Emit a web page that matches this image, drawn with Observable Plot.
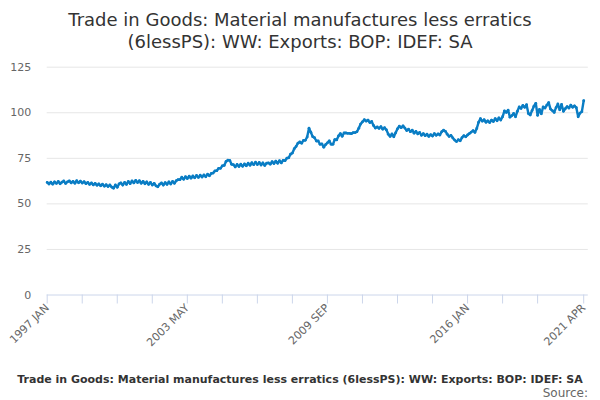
<!DOCTYPE html>
<html>
<head>
<meta charset="utf-8">
<script src="https://cdn.jsdelivr.net/npm/d3@7"></script>
<script src="https://cdn.jsdelivr.net/npm/@observablehq/plot@0.6"></script>
<style>
  html, body { margin: 0; padding: 0; background: #fff; }
  body { width: 600px; height: 400px; position: relative; overflow: hidden; font-family: "DejaVu Sans", sans-serif; }
  #title { position: absolute; top: 9px; left: 0; width: 600px; text-align: center; font-size: 18px; line-height: 22px; color: #333; }
  #chart { position: absolute; top: 0; left: 0; }
  #caption { position: absolute; top: 371px; left: 0; width: 600px; text-align: center; white-space: nowrap; font-size: 11px; font-weight: bold; color: #333; line-height: 18px; }
  #source { position: absolute; top: 385px; right: 12px; font-size: 12px; color: #666; line-height: 16px; }
</style>
</head>
<body>
<div id="title">Trade in Goods: Material manufactures less erratics<br>(6lessPS): WW: Exports: BOP: IDEF: SA</div>
<div id="chart"></div>
<div id="caption">Trade in Goods: Material manufactures less erratics (6lessPS): WW: Exports: BOP: IDEF: SA</div>
<div id="source">Source:</div>
<script>
// Monthly series, 1997 JAN .. 2021 APR
const startYear = 1997;
const monthNames = ["JAN","FEB","MAR","APR","MAY","JUN","JUL","AUG","SEP","OCT","NOV","DEC"];
const values = [
  // 1997
  61.8, 60.9, 61.9, 60.8, 62.1, 61.2, 62.3, 61.0, 61.9, 62.6, 61.2, 62.1,
  // 1998
  62.6, 61.5, 62.4, 61.3, 62.7, 61.6, 62.5, 61.4, 62.2, 61.1, 61.8, 60.7,
  // 1999
  61.5, 60.4, 61.3, 60.2, 61.0, 59.9, 60.8, 59.7, 60.5, 59.5, 60.4, 59.2,
  // 2000
  58.6, 60.4, 59.1, 61.0, 61.5, 60.3, 61.8, 60.7, 62.3, 61.1, 62.6, 61.5,
  // 2001
  62.9, 61.7, 62.7, 61.3, 62.4, 61.0, 62.1, 60.7, 61.8, 60.3, 61.3, 59.9,
  // 2002
  59.4, 60.8, 61.5, 60.3, 61.7, 60.7, 62.1, 60.9, 62.3, 61.3, 62.7, 63.3,
  // 2003
  63.3, 64.6, 63.5, 64.9, 63.9, 65.2, 64.1, 65.3, 64.3, 65.6, 64.5, 65.7,
  // 2004
  64.7, 65.9, 64.9, 66.3, 65.4, 66.7, 66.9, 68.1, 68.2, 69.5, 69.5, 70.9,
  // 2005
  71.1, 73.3, 74.0, 73.9, 71.7, 71.5, 70.3, 71.6, 70.5, 71.8, 70.6, 71.9,
  // 2006
  70.9, 72.3, 71.2, 72.6, 71.5, 72.9, 71.6, 72.7, 71.3, 72.5, 71.1, 72.3,
  // 2007
  72.5, 71.8, 73.2, 72.1, 73.5, 72.3, 73.7, 72.5, 73.9, 73.7, 75.1, 75.3,
  // 2008
  77.3, 77.9, 80.3, 81.5, 83.3, 84.0, 83.3, 84.8, 84.9, 86.7, 91.5, 89.3,
  // 2009
  86.9, 86.3, 84.5, 84.5, 82.7, 82.9, 81.1, 82.5, 83.5, 84.6, 82.7, 82.7,
  // 2010
  85.3, 85.1, 87.3, 88.6, 87.1, 88.9, 88.9, 88.7, 88.7, 88.5, 89.1, 89.1,
  // 2011
  89.6, 91.5, 93.8, 95.0, 96.2, 95.4, 96.0, 94.6, 95.2, 93.0, 91.6, 92.2,
  // 2012
  91.4, 92.4, 91.0, 91.8, 90.6, 88.2, 87.0, 88.4, 86.8, 89.0, 91.2, 92.6,
  // 2013
  91.8, 92.8, 91.6, 90.2, 91.0, 89.6, 90.4, 88.8, 89.8, 88.4, 89.2, 87.6,
  // 2014
  88.6, 87.4, 88.2, 87.0, 88.0, 87.2, 88.6, 87.6, 88.4, 87.8, 89.6, 90.4,
  // 2015
  89.8, 88.2, 87.0, 87.6, 86.2, 85.0, 84.2, 85.2, 84.6, 86.4, 87.4, 86.8,
  // 2016
  87.8, 88.6, 89.4, 90.2, 89.2, 91.4, 94.8, 96.8, 95.4, 96.2, 94.8, 95.6,
  // 2017
  94.6, 96.0, 95.2, 96.8, 95.6, 97.2, 96.0, 97.8, 101.0, 100.2, 101.4, 97.6,
  // 2018
  98.4, 99.6, 97.8, 100.8, 103.2, 102.4, 104.0, 103.0, 104.4, 99.6, 98.8, 101.2,
  // 2019
  103.6, 105.2, 98.6, 101.8, 99.4, 103.2, 102.6, 104.2, 105.6, 102.0, 101.2, 100.2,
  // 2020
  102.8, 104.8, 101.6, 104.6, 100.8, 102.2, 103.4, 102.6, 104.2, 103.0, 103.8, 102.8,
  // 2021
  97.8, 99.8, 100.6, 106.6
];
const periods = values.map((_, i) => `${startYear + Math.floor(i / 12)} ${monthNames[i % 12]}`);
const tickLabels = ["1997 JAN", "2003 MAY", "2009 SEP", "2016 JAN", "2021 APR"];
const yTicks = [0, 25, 50, 75, 100, 125];
const tickStep = 19;

const data = values.map((v, i) => ({i, period: periods[i], value: v}));
const tickIdx = d3.range(0, values.length - 10, tickStep).concat([values.length - 1]);
const labelIdx = tickLabels.map(l => periods.indexOf(l));

const chart = Plot.plot({
  width: 600,
  height: 340,
  marginTop: 66.7,
  marginBottom: 45.5,
  marginLeft: 46.7,
  marginRight: 16.8,
  style: {fontFamily: "DejaVu Sans, sans-serif", fontSize: "11px", color: "#666", background: "transparent", overflow: "visible"},
  x: {type: "linear", domain: [0, values.length - 1]},
  y: {domain: [0, 125]},
  marks: [
    Plot.ruleY(yTicks.filter(d => d > 0), {stroke: "#e6e6e6", strokeOpacity: 1, x1: 0, x2: values.length + 1.5}),
    Plot.axisY(yTicks, {tickSize: 0, tickPadding: 16, label: null, fill: "#666", fontSize: 11}),
    Plot.ruleY([0], {stroke: "#ccd6eb", strokeOpacity: 1, x1: 0, x2: values.length + 1.5}),
    Plot.axisX(tickIdx, {tickSize: 9, stroke: "#ccd6eb", strokeOpacity: 1, tickRotate: -45, tickPadding: 2,
      tickFormat: d => labelIdx.includes(d) ? periods[d] : "", label: null, fill: "#666", fontSize: 11}),
    Plot.line(data, {x: "i", y: "value", stroke: "#0a7dc4", strokeWidth: 2.4, strokeLinejoin: "round"}),
    Plot.dot(data, {x: "i", y: "value", r: 1.4, fill: "#0a7dc4", stroke: "none"})
  ]
});
document.getElementById("chart").appendChild(chart);
</script>
</body>
</html>
